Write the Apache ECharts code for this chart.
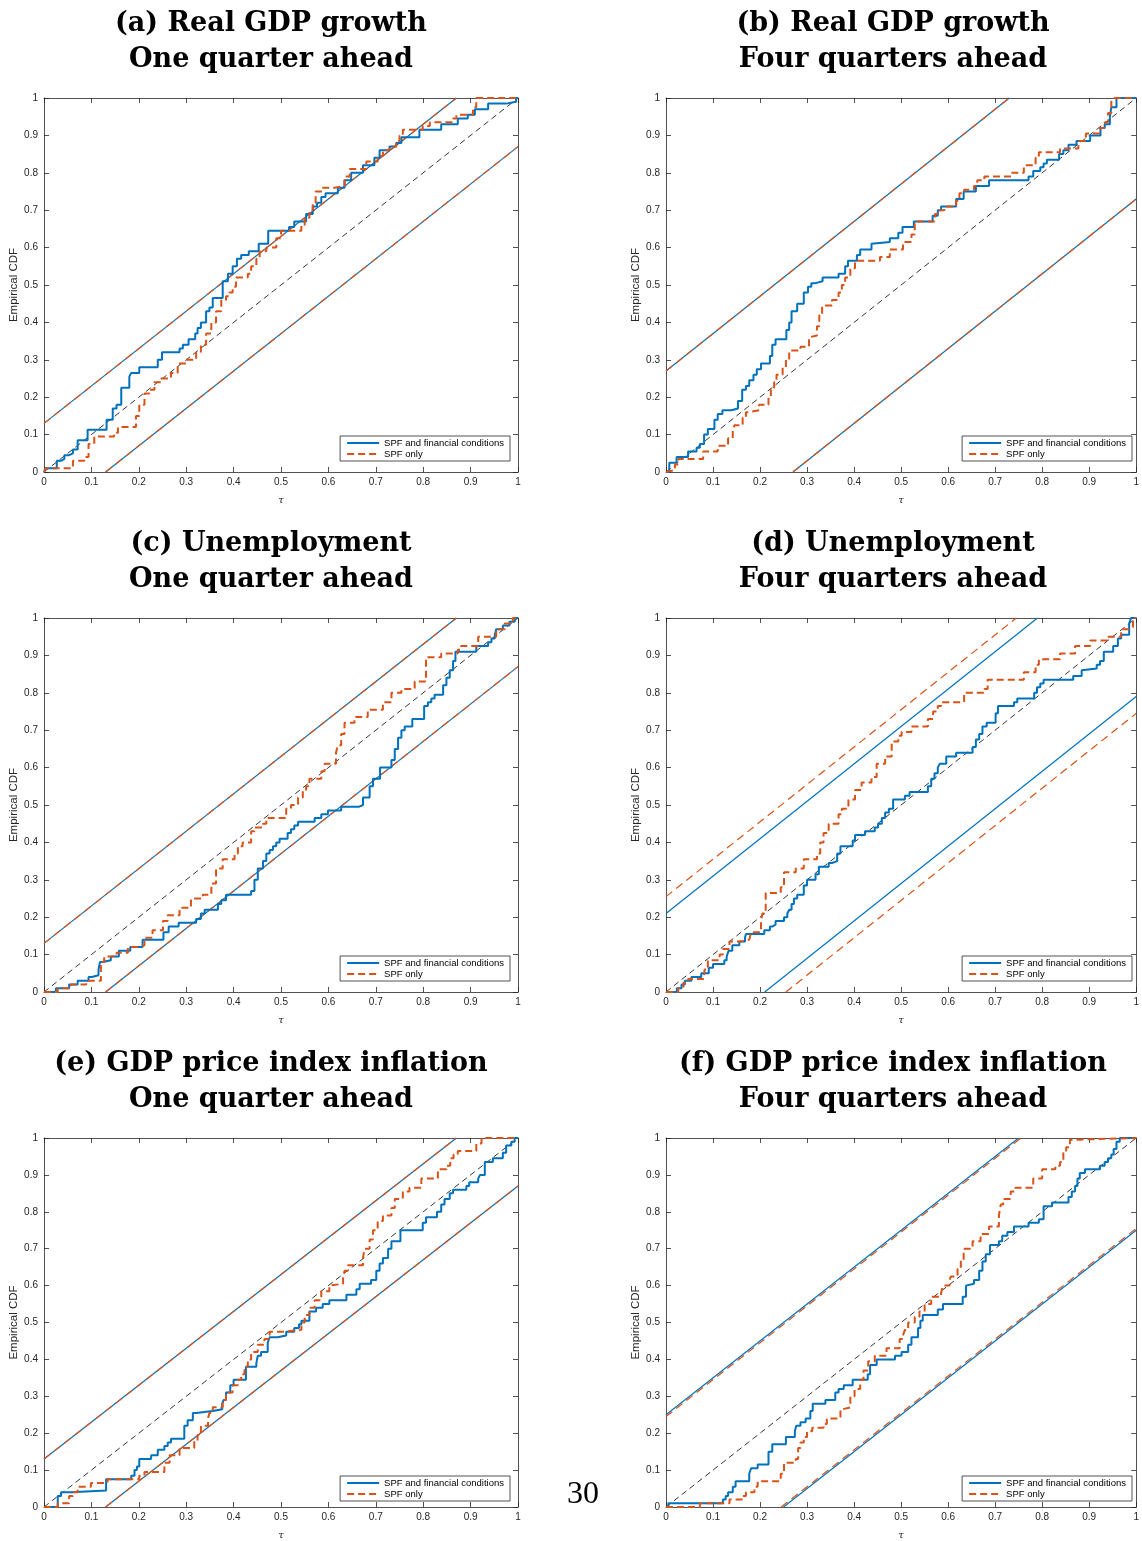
<!DOCTYPE html>
<html>
<head>
<meta charset="utf-8">
<title>Empirical CDF of PITs</title>
<script src="https://cdn.jsdelivr.net/npm/echarts@6/dist/echarts.min.js"></script>
<style>
  html, body { margin: 0; padding: 0; background: #fff; }
  #chart { width: 1142px; height: 1541px; }
</style>
</head>
<body>
<div id="chart"></div>
<script>
// titles of the six panels
const panelTitles = [
  '(a) Real GDP growth\nOne quarter ahead',
  '(b) Real GDP growth\nFour quarters ahead',
  '(c) Unemployment\nOne quarter ahead',
  '(d) Unemployment\nFour quarters ahead',
  '(e) GDP price index inflation\nOne quarter ahead',
  '(f) GDP price index inflation\nFour quarters ahead'
];
const seriesNames = ['SPF and financial conditions', 'SPF only'];
const pageNumber = '30';

// critical values of the confidence bands
const bandFin = [0.13, 0.27, 0.13, 0.21, 0.13, 0.25];
const bandSpf = [0.13, 0.27, 0.13, 0.255, 0.13, 0.245];

// empirical CDF steps: [tau, value after the jump]
const gdpOneFin = [[0,0],[0.003,0.01],[0.027,0.03],[0.036,0.035],[0.043,0.045],[0.053,0.05],[0.061,0.06],[0.071,0.085],[0.092,0.113],[0.132,0.14],[0.145,0.17],[0.153,0.18],[0.163,0.225],[0.18,0.255],[0.184,0.265],[0.201,0.28],[0.24,0.30],[0.249,0.32],[0.286,0.33],[0.293,0.34],[0.305,0.355],[0.319,0.37],[0.324,0.385],[0.331,0.40],[0.342,0.43],[0.349,0.44],[0.356,0.465],[0.377,0.51],[0.388,0.53],[0.398,0.55],[0.407,0.57],[0.416,0.58],[0.432,0.59],[0.453,0.61],[0.473,0.645],[0.517,0.655],[0.528,0.67],[0.553,0.69],[0.567,0.71],[0.576,0.72],[0.585,0.735],[0.594,0.745],[0.62,0.76],[0.634,0.78],[0.648,0.80],[0.673,0.82],[0.697,0.84],[0.708,0.86],[0.729,0.87],[0.743,0.88],[0.754,0.895],[0.792,0.915],[0.838,0.93],[0.873,0.945],[0.894,0.955],[0.909,0.97],[0.937,0.985],[0.975,0.99],[0.996,1],[1,1]];
const gdpOneSpf = [[0,0],[0.004,0.01],[0.061,0.03],[0.085,0.04],[0.094,0.075],[0.106,0.095],[0.148,0.105],[0.156,0.12],[0.194,0.15],[0.201,0.18],[0.212,0.21],[0.222,0.22],[0.233,0.24],[0.247,0.25],[0.268,0.265],[0.282,0.29],[0.30,0.30],[0.321,0.32],[0.331,0.34],[0.342,0.37],[0.353,0.40],[0.363,0.43],[0.374,0.46],[0.384,0.47],[0.391,0.48],[0.398,0.495],[0.405,0.52],[0.43,0.53],[0.437,0.55],[0.448,0.57],[0.455,0.59],[0.469,0.60],[0.49,0.625],[0.50,0.645],[0.543,0.66],[0.55,0.68],[0.56,0.70],[0.567,0.72],[0.573,0.75],[0.588,0.76],[0.613,0.765],[0.634,0.79],[0.645,0.81],[0.68,0.83],[0.704,0.845],[0.715,0.86],[0.729,0.87],[0.743,0.885],[0.75,0.90],[0.757,0.915],[0.799,0.925],[0.814,0.935],[0.863,0.945],[0.87,0.955],[0.905,0.975],[0.912,1],[1,1]];
const gdpFourFin = [[0,0],[0.007,0.025],[0.0225,0.04],[0.047,0.055],[0.065,0.065],[0.072,0.075],[0.081,0.10],[0.089,0.115],[0.103,0.14],[0.11,0.155],[0.12,0.165],[0.139,0.17],[0.153,0.19],[0.162,0.22],[0.17,0.23],[0.177,0.245],[0.186,0.26],[0.193,0.275],[0.202,0.29],[0.221,0.31],[0.226,0.34],[0.233,0.355],[0.256,0.38],[0.262,0.40],[0.267,0.43],[0.279,0.45],[0.293,0.48],[0.302,0.495],[0.309,0.505],[0.318,0.51],[0.333,0.52],[0.367,0.53],[0.381,0.55],[0.387,0.565],[0.406,0.58],[0.413,0.595],[0.437,0.61],[0.441,0.615],[0.476,0.625],[0.494,0.64],[0.503,0.655],[0.527,0.67],[0.567,0.685],[0.578,0.70],[0.585,0.71],[0.617,0.73],[0.633,0.75],[0.659,0.765],[0.687,0.78],[0.771,0.79],[0.781,0.805],[0.796,0.815],[0.803,0.825],[0.81,0.835],[0.836,0.85],[0.845,0.86],[0.856,0.875],[0.873,0.885],[0.902,0.90],[0.924,0.92],[0.933,0.93],[0.944,0.95],[0.947,0.975],[0.958,1],[1,1]];
const gdpFourSpf = [[0,0],[0.003,0.005],[0.019,0.02],[0.026,0.035],[0.079,0.055],[0.11,0.07],[0.132,0.09],[0.142,0.115],[0.146,0.125],[0.163,0.145],[0.17,0.16],[0.177,0.165],[0.198,0.18],[0.218,0.20],[0.223,0.22],[0.23,0.24],[0.235,0.26],[0.248,0.28],[0.255,0.30],[0.262,0.325],[0.286,0.335],[0.304,0.36],[0.307,0.365],[0.321,0.39],[0.326,0.42],[0.332,0.445],[0.353,0.46],[0.367,0.48],[0.374,0.50],[0.381,0.52],[0.392,0.545],[0.402,0.565],[0.455,0.575],[0.476,0.595],[0.504,0.615],[0.522,0.635],[0.529,0.67],[0.572,0.69],[0.582,0.70],[0.592,0.71],[0.617,0.725],[0.624,0.745],[0.634,0.755],[0.655,0.765],[0.662,0.78],[0.677,0.79],[0.736,0.80],[0.761,0.82],[0.786,0.84],[0.793,0.855],[0.838,0.865],[0.877,0.885],[0.893,0.905],[0.923,0.92],[0.933,0.935],[0.94,0.96],[0.947,0.99],[0.951,1],[1,1]];
const unempOneFin = [[0,0],[0.025,0.01],[0.053,0.02],[0.071,0.03],[0.094,0.04],[0.101,0.045],[0.115,0.06],[0.118,0.08],[0.124,0.085],[0.141,0.095],[0.158,0.11],[0.182,0.12],[0.208,0.14],[0.252,0.16],[0.263,0.175],[0.284,0.185],[0.321,0.195],[0.331,0.21],[0.339,0.22],[0.367,0.235],[0.374,0.245],[0.384,0.26],[0.437,0.27],[0.444,0.30],[0.451,0.33],[0.462,0.35],[0.469,0.37],[0.476,0.38],[0.483,0.39],[0.49,0.40],[0.497,0.41],[0.514,0.425],[0.521,0.435],[0.528,0.445],[0.536,0.455],[0.571,0.465],[0.585,0.475],[0.599,0.485],[0.627,0.495],[0.664,0.50],[0.673,0.52],[0.687,0.55],[0.694,0.57],[0.709,0.60],[0.733,0.62],[0.74,0.65],[0.747,0.68],[0.754,0.70],[0.761,0.71],[0.777,0.73],[0.802,0.765],[0.81,0.775],[0.817,0.785],[0.824,0.795],[0.842,0.82],[0.849,0.84],[0.856,0.86],[0.863,0.885],[0.868,0.91],[0.912,0.925],[0.937,0.935],[0.944,0.945],[0.951,0.955],[0.954,0.97],[0.968,0.98],[0.982,0.99],[0.993,1],[1,1]];
const unempOneSpf = [[0,0],[0.029,0.01],[0.057,0.02],[0.089,0.03],[0.12,0.08],[0.127,0.095],[0.153,0.105],[0.177,0.12],[0.201,0.125],[0.212,0.145],[0.229,0.165],[0.251,0.19],[0.261,0.205],[0.286,0.225],[0.31,0.25],[0.335,0.26],[0.353,0.29],[0.363,0.33],[0.377,0.355],[0.402,0.37],[0.409,0.39],[0.419,0.40],[0.437,0.43],[0.444,0.44],[0.462,0.45],[0.469,0.465],[0.511,0.49],[0.521,0.50],[0.536,0.52],[0.546,0.54],[0.553,0.55],[0.56,0.57],[0.585,0.59],[0.592,0.61],[0.616,0.64],[0.62,0.66],[0.627,0.69],[0.634,0.72],[0.655,0.735],[0.683,0.755],[0.715,0.775],[0.733,0.80],[0.754,0.81],[0.782,0.83],[0.806,0.895],[0.838,0.905],[0.873,0.915],[0.88,0.925],[0.916,0.95],[0.954,0.97],[0.972,0.985],[0.989,1],[1,1]];
const unempFourFin = [[0,0],[0.023,0.01],[0.033,0.02],[0.04,0.03],[0.054,0.04],[0.075,0.05],[0.091,0.065],[0.1,0.075],[0.124,0.085],[0.129,0.095],[0.133,0.11],[0.141,0.125],[0.156,0.135],[0.168,0.145],[0.17,0.155],[0.209,0.165],[0.221,0.175],[0.226,0.18],[0.233,0.19],[0.251,0.20],[0.258,0.21],[0.262,0.22],[0.267,0.235],[0.272,0.25],[0.279,0.26],[0.293,0.285],[0.30,0.30],[0.318,0.315],[0.325,0.335],[0.346,0.345],[0.353,0.35],[0.364,0.37],[0.371,0.39],[0.397,0.405],[0.402,0.42],[0.423,0.43],[0.444,0.44],[0.451,0.45],[0.459,0.465],[0.466,0.48],[0.474,0.49],[0.483,0.515],[0.508,0.525],[0.518,0.535],[0.557,0.55],[0.564,0.57],[0.571,0.585],[0.578,0.60],[0.582,0.61],[0.596,0.63],[0.617,0.64],[0.652,0.655],[0.659,0.675],[0.666,0.69],[0.673,0.71],[0.682,0.72],[0.701,0.745],[0.706,0.765],[0.74,0.775],[0.747,0.785],[0.783,0.80],[0.789,0.815],[0.796,0.825],[0.803,0.835],[0.866,0.845],[0.884,0.86],[0.887,0.865],[0.916,0.875],[0.923,0.885],[0.931,0.91],[0.951,0.925],[0.961,0.945],[0.968,0.955],[0.985,0.985],[0.989,1],[1,1]];
const unempFourSpf = [[0,0],[0.026,0.01],[0.037,0.025],[0.047,0.035],[0.081,0.045],[0.082,0.06],[0.089,0.085],[0.114,0.10],[0.121,0.115],[0.135,0.135],[0.16,0.14],[0.177,0.145],[0.181,0.16],[0.202,0.19],[0.205,0.21],[0.212,0.265],[0.244,0.28],[0.251,0.32],[0.276,0.33],[0.293,0.355],[0.321,0.37],[0.328,0.40],[0.335,0.425],[0.346,0.45],[0.367,0.475],[0.374,0.49],[0.388,0.515],[0.402,0.54],[0.416,0.56],[0.437,0.575],[0.448,0.61],[0.466,0.63],[0.48,0.67],[0.494,0.685],[0.501,0.695],[0.522,0.71],[0.557,0.73],[0.568,0.75],[0.578,0.765],[0.585,0.775],[0.634,0.80],[0.677,0.81],[0.684,0.835],[0.761,0.855],[0.786,0.875],[0.793,0.89],[0.838,0.905],[0.87,0.925],[0.902,0.94],[0.937,0.95],[0.968,0.97],[0.986,0.975],[0.993,1],[1,1]];
const inflOneFin = [[0,0],[0.029,0.03],[0.036,0.04],[0.057,0.045],[0.131,0.075],[0.184,0.085],[0.191,0.10],[0.196,0.11],[0.201,0.13],[0.226,0.14],[0.24,0.155],[0.254,0.165],[0.261,0.175],[0.268,0.185],[0.296,0.22],[0.303,0.235],[0.314,0.255],[0.321,0.26],[0.356,0.265],[0.376,0.28],[0.379,0.29],[0.384,0.31],[0.393,0.33],[0.40,0.345],[0.426,0.38],[0.448,0.39],[0.451,0.41],[0.458,0.42],[0.472,0.445],[0.476,0.46],[0.493,0.465],[0.511,0.475],[0.528,0.485],[0.538,0.495],[0.543,0.505],[0.56,0.53],[0.574,0.54],[0.588,0.55],[0.602,0.56],[0.638,0.575],[0.659,0.59],[0.666,0.605],[0.69,0.615],[0.701,0.64],[0.708,0.66],[0.715,0.675],[0.726,0.70],[0.733,0.72],[0.752,0.75],[0.799,0.77],[0.806,0.785],[0.829,0.80],[0.838,0.82],[0.845,0.835],[0.856,0.85],[0.863,0.86],[0.891,0.87],[0.897,0.88],[0.916,0.89],[0.92,0.90],[0.93,0.935],[0.947,0.945],[0.968,0.96],[0.975,0.98],[0.986,0.99],[0.993,1],[1,1]];
const inflOneSpf = [[0,0],[0.029,0.01],[0.053,0.03],[0.061,0.04],[0.071,0.055],[0.099,0.065],[0.134,0.075],[0.201,0.085],[0.212,0.095],[0.254,0.12],[0.265,0.14],[0.286,0.16],[0.317,0.18],[0.324,0.195],[0.331,0.22],[0.346,0.24],[0.349,0.255],[0.356,0.27],[0.377,0.29],[0.384,0.31],[0.398,0.33],[0.409,0.345],[0.416,0.36],[0.423,0.38],[0.43,0.40],[0.437,0.42],[0.451,0.44],[0.465,0.455],[0.476,0.475],[0.507,0.48],[0.543,0.50],[0.55,0.52],[0.56,0.54],[0.571,0.56],[0.585,0.585],[0.602,0.60],[0.606,0.605],[0.631,0.62],[0.634,0.64],[0.641,0.655],[0.673,0.675],[0.676,0.70],[0.687,0.725],[0.694,0.75],[0.704,0.775],[0.715,0.79],[0.733,0.81],[0.74,0.835],[0.757,0.855],[0.771,0.865],[0.796,0.89],[0.831,0.915],[0.849,0.925],[0.857,0.945],[0.864,0.955],[0.873,0.965],[0.912,0.985],[0.923,1],[1,1]];
const inflFourFin = [[0,0],[0.005,0.01],[0.121,0.02],[0.127,0.03],[0.132,0.04],[0.142,0.055],[0.148,0.07],[0.177,0.09],[0.181,0.105],[0.195,0.115],[0.218,0.15],[0.226,0.17],[0.255,0.19],[0.274,0.205],[0.277,0.22],[0.286,0.23],[0.297,0.24],[0.307,0.26],[0.312,0.28],[0.339,0.29],[0.36,0.31],[0.367,0.32],[0.378,0.33],[0.397,0.345],[0.429,0.36],[0.434,0.385],[0.448,0.40],[0.487,0.41],[0.501,0.42],[0.515,0.44],[0.522,0.46],[0.536,0.485],[0.541,0.505],[0.546,0.52],[0.578,0.535],[0.589,0.55],[0.631,0.57],[0.638,0.60],[0.641,0.605],[0.655,0.615],[0.666,0.64],[0.673,0.665],[0.68,0.685],[0.689,0.71],[0.708,0.72],[0.715,0.735],[0.726,0.745],[0.74,0.76],[0.771,0.77],[0.793,0.78],[0.803,0.815],[0.821,0.825],[0.856,0.84],[0.863,0.855],[0.87,0.87],[0.875,0.89],[0.88,0.905],[0.891,0.915],[0.923,0.925],[0.933,0.935],[0.94,0.945],[0.947,0.955],[0.952,0.97],[0.958,0.99],[0.965,1],[1,1]];
const inflFourSpf = [[0,0],[0.072,0.01],[0.135,0.02],[0.163,0.03],[0.17,0.04],[0.188,0.055],[0.195,0.07],[0.244,0.09],[0.251,0.12],[0.276,0.13],[0.281,0.16],[0.286,0.175],[0.293,0.19],[0.30,0.205],[0.311,0.215],[0.335,0.225],[0.342,0.24],[0.371,0.265],[0.376,0.27],[0.392,0.30],[0.401,0.32],[0.413,0.345],[0.42,0.37],[0.43,0.395],[0.444,0.41],[0.469,0.43],[0.497,0.455],[0.504,0.465],[0.508,0.48],[0.515,0.50],[0.529,0.515],[0.539,0.53],[0.55,0.55],[0.564,0.57],[0.585,0.58],[0.589,0.60],[0.603,0.615],[0.606,0.625],[0.62,0.645],[0.627,0.67],[0.633,0.70],[0.652,0.72],[0.669,0.74],[0.687,0.76],[0.708,0.79],[0.712,0.82],[0.717,0.835],[0.733,0.855],[0.743,0.865],[0.781,0.89],[0.80,0.915],[0.828,0.925],[0.838,0.935],[0.845,0.96],[0.851,0.975],[0.859,0.995],[0.863,1],[1,1]];

const ecdfFin = [gdpOneFin, gdpFourFin, unempOneFin, unempFourFin, inflOneFin, inflFourFin];
const ecdfSpf = [gdpOneSpf, gdpFourSpf, unempOneSpf, unempFourSpf, inflOneSpf, inflFourSpf];

const BLUE = '#0072BD';
const ORANGE = '#D95319';
const AXIS = '#262626';

// panel placement
const panelLeft = [44, 666];
const panelTop = [98, 618, 1138];
const panelW = 474;
const panelH = 374;
const titleCenter = [266, 888];

const chart = echarts.init(document.getElementById('chart'));

const titles = [];
const grids = [];
const xAxes = [];
const yAxes = [];
const legends = [];
const series = [];

function boxAxis(extra) {
  return Object.assign({
    type: 'value',
    min: 0,
    max: 1,
    interval: 0.1,
    splitLine: { show: false },
    axisLine: { show: true, onZero: false, lineStyle: { color: AXIS, width: 0.8 } },
    axisTick: { show: true, inside: true, length: 5, lineStyle: { color: AXIS, width: 0.8 } },
    axisLabel: { color: AXIS, fontSize: 10, fontFamily: 'Liberation Sans' }
  }, extra);
}

function bandLines(c, color, dashed, ax) {
  const style = { color: color, width: 1.2, type: dashed ? [8, 5] : 'solid' };
  return [
    [[0, c], [1 - c, 1]],
    [[c, 0], [1, 1 - c]]
  ].map(pts => ({
    type: 'line', name: 'band', xAxisIndex: ax, yAxisIndex: ax,
    data: pts, symbol: 'none', silent: true, clip: false,
    lineStyle: style, z: 2
  }));
}

for (let i = 0; i < 6; i++) {
  const col = i % 2;
  const row = Math.floor(i / 2);
  const left = panelLeft[col];
  const top = panelTop[row];
  const ax = 2 * i;

  titles.push({
    text: panelTitles[i],
    left: titleCenter[col],
    top: top - 97,
    textAlign: 'center',
    textStyle: { fontFamily: 'DejaVu Serif', fontWeight: 'bold', fontSize: 27, lineHeight: 36, color: '#000' }
  });

  grids.push({ left: left, top: top, width: panelW, height: panelH, show: false });

  xAxes.push(boxAxis({
    gridIndex: i, position: 'bottom',
    name: 'τ', nameLocation: 'middle', nameGap: 23,
    nameTextStyle: { fontFamily: 'DejaVu Serif', fontStyle: 'italic', fontSize: 10, color: AXIS },
    axisLabel: { color: AXIS, fontSize: 10, fontFamily: 'Liberation Sans', margin: 5 }
  }));
  xAxes.push(boxAxis({ gridIndex: i, position: 'top', axisLabel: { show: false } }));

  yAxes.push(boxAxis({
    gridIndex: i, position: 'left',
    name: 'Empirical CDF', nameLocation: 'middle', nameGap: 22,
    nameTextStyle: { fontFamily: 'Liberation Sans', fontSize: 11.5, color: AXIS },
    axisLabel: { color: AXIS, fontSize: 10, fontFamily: 'Liberation Sans', margin: 6 }
  }));
  yAxes.push(boxAxis({ gridIndex: i, position: 'right', axisLabel: { show: false } }));

  legends.push({
    orient: 'vertical',
    right: col === 0 ? 1142 - 510 : 10,
    top: top + 338,
    data: seriesNames,
    selectedMode: false,
    backgroundColor: '#fff',
    borderColor: AXIS,
    borderWidth: 0.8,
    borderRadius: 0,
    padding: [2, 6, 2, 6],
    itemGap: 1,
    itemWidth: 32,
    itemHeight: 12,
    itemStyle: { opacity: 0 },
    textStyle: { fontSize: 9.5, color: '#000', fontFamily: 'Liberation Sans' }
  });

  // 45 degree line
  series.push({
    type: 'line', name: 'diagonal', xAxisIndex: ax, yAxisIndex: ax,
    data: [[0, 0], [1, 1]], symbol: 'none', silent: true,
    lineStyle: { color: '#000', width: 0.8, type: [6, 4] }, z: 1
  });
  series.push(...bandLines(bandFin[i], BLUE, false, ax));
  series.push(...bandLines(bandSpf[i], ORANGE, true, ax));

  series.push({
    type: 'line', name: seriesNames[0], xAxisIndex: ax, yAxisIndex: ax,
    data: ecdfFin[i], step: 'end', symbol: 'none', silent: true, clip: false,
    lineStyle: { color: BLUE, width: 2 }, itemStyle: { color: BLUE }, z: 3
  });
  series.push({
    type: 'line', name: seriesNames[1], xAxisIndex: ax, yAxisIndex: ax,
    data: ecdfSpf[i], step: 'end', symbol: 'none', silent: true, clip: false,
    lineStyle: { color: ORANGE, width: 2, type: [7, 4] }, itemStyle: { color: ORANGE }, z: 3
  });
}

titles.push({
  text: pageNumber,
  left: 578,
  top: 1474,
  textAlign: 'center',
  textStyle: { fontFamily: 'Liberation Serif', fontWeight: 'normal', fontSize: 32, color: '#000' }
});

chart.setOption({
  animation: false,
  backgroundColor: '#fff',
  title: titles,
  grid: grids,
  xAxis: xAxes,
  yAxis: yAxes,
  legend: legends,
  series: series
});
</script>
</body>
</html>
